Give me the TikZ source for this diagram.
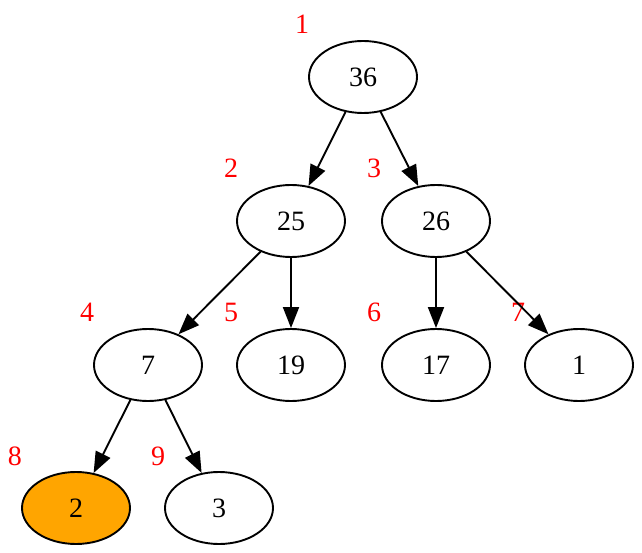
\documentclass[tikz,border=0pt]{standalone}
\usepackage{fontspec}
\setmainfont{Liberation Serif}
\usepackage{xcolor}
\usetikzlibrary{arrows.meta,shapes.geometric}
\definecolor{heapLine}{HTML}{000000}
\definecolor{hitFill}{HTML}{FFA500}
\definecolor{indexText}{HTML}{FF0000}

\begin{document}
\begin{tikzpicture}[
  x=1pt, y=-1pt,
  font=\fontsize{28}{34}\selectfont,
  heap node/.style={
    draw=heapLine,
    ellipse,
    line width=1.9pt,
    minimum width=108pt,
    minimum height=72pt,
    inner sep=0pt
  },
  found/.style={
    heap node,
    fill=hitFill
  },
  index/.style={
    text=indexText,
    inner sep=0pt,
    font=\fontsize{28}{34}\selectfont
  },
  edge/.style={
    -{Triangle[length=21pt,width=16pt]},
    draw=black,
    line width=1.9pt
  }
]
\useasboundingbox (0,0) rectangle (642,553);

% Heap levels
\node[heap node] (n36) at (363,77) {36};

\node[heap node] (n25) at (291,221) {25};
\node[heap node] (n26) at (436,221) {26};

\node[heap node] (n7) at (148,365) {7};
\node[heap node] (n19) at (291,365) {19};
\node[heap node] (n17) at (436,365) {17};
\node[heap node] (n1) at (579,365) {1};

\node[found] (n2) at (76,508) {2};
\node[heap node] (n3) at (219,508) {3};

% Array positions, up and left of each node
\node[index] (i1) at (302,24) {1};
\node[index] (i2) at (231,168) {2};
\node[index] (i3) at (374,168) {3};
\node[index] (i4) at (87,312) {4};
\node[index] (i5) at (231,312) {5};
\node[index] (i6) at (374,312) {6};
\node[index] (i7) at (518,312) {7};
\node[index] (i8) at (15,456) {8};
\node[index] (i9) at (158,456) {9};

% Parent to child edges
\draw[edge] (n36) -- (n25);
\draw[edge] (n36) -- (n26);
\draw[edge] (n25) -- (n7);
\draw[edge] (n25) -- (n19);
\draw[edge] (n26) -- (n17);
\draw[edge] (n26) -- (n1);
\draw[edge] (n7) -- (n2);
\draw[edge] (n7) -- (n3);

\end{tikzpicture}
\end{document}
